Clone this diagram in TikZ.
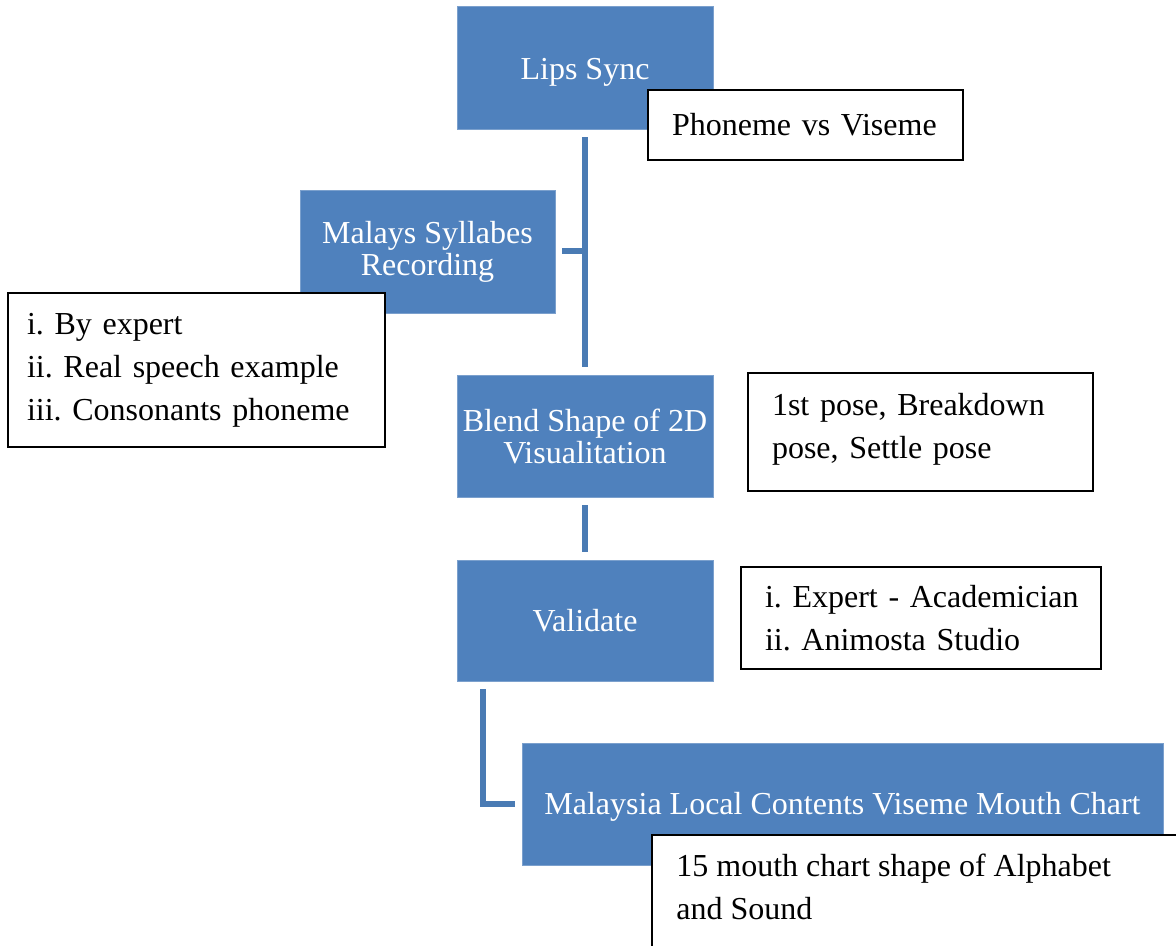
\documentclass[tikz,border=0pt]{standalone}
\usepackage{fontspec}
\setmainfont{Liberation Serif}
\frenchspacing
\hyphenpenalty=10000
\definecolor{boxblue}{HTML}{4F81BD}
\definecolor{lineblue}{HTML}{4A7BB4}
\newcommand\lpad{\hspace*{12pt}}
\begin{document}
\begin{tikzpicture}[x=0.5pt,y=-0.5pt,
  bluebox/.style={rectangle, fill=boxblue, draw=boxblue!75!white, line width=0.4pt,
    text=white, align=center, inner sep=0pt, font=\fontsize{16}{16}\selectfont},
  txtbox/.style={rectangle, fill=white, draw=black, line width=0.9pt,
    align=left, inner ysep=0pt, font=\fontsize{16}{21.5}\selectfont},
  conn/.style={draw=lineblue, line width=3pt}]
\useasboundingbox (0,0) rectangle (1176,946);
\clip (0,0) rectangle (1176,946);

% blue process boxes
\node[bluebox, minimum width=128pt, minimum height=61.5pt] (lips) at (585,67.5) {\raisebox{-2.5pt}[\height][\depth]{Lips Sync}};
\node[bluebox, minimum width=127.5pt, minimum height=61.5pt] (malays) at (427.5,251.5) {Malays Syllabes\\Recording};
\node[bluebox, minimum width=128pt, minimum height=61pt] (blend) at (585,436) {Blend Shape of 2D\\Visualitation};
\node[bluebox, minimum width=128pt, minimum height=60.5pt] (validate) at (585,620.5) {Validate};
\node[bluebox, minimum width=320.5pt, minimum height=61pt] (malaysia) at (842.5,804) {\raisebox{-1.5pt}[\height][\depth]{Malaysia Local Contents Viseme Mouth Chart}};

% connectors
\draw[conn] ([yshift=-4pt]lips.south) -- ([yshift=4pt]blend.north);
\draw[conn] ([xshift=3.5pt]malays.east) -- (malays.east -| lips.south);
\draw[conn] ([yshift=-4pt]blend.south) -- ([yshift=4pt]validate.north);
\draw[conn] ([xshift=13pt,yshift=-4pt]validate.south west) |- ([xshift=-3.5pt]malaysia.west);

% text boxes
\node[txtbox, inner xsep=0pt, text width=157.5pt, minimum height=35pt] (phon) at (805.5,125) {\lpad Phoneme vs Viseme};
\node[txtbox, inner xsep=9.5pt, text width=169.5pt, minimum height=77pt] (expert) at (196.5,370) {i. By expert\\ii. Real speech example\\iii. Consonants phoneme};
\node[txtbox, inner xsep=0pt, text width=172.5pt, minimum height=59pt] (pose) at (920.5,432) {\lpad 1st pose, Breakdown\\\lpad pose, Settle pose\\[-15.5pt]\mbox{}};
\node[txtbox, inner xsep=0pt, text width=180pt, minimum height=51pt] (acad) at (921,618) {\lpad i. Expert - Academician\\\lpad ii. Animosta Studio};
\draw[fill=white, draw=black, line width=0.9pt] (652,835) rectangle (1200,990);
\node[anchor=west, align=left, inner sep=0pt, font=\fontsize{16}{21.5}\selectfont] (mouth) at (676,887) {15 mouth chart shape of Alphabet\\and Sound};
\end{tikzpicture}
\end{document}
